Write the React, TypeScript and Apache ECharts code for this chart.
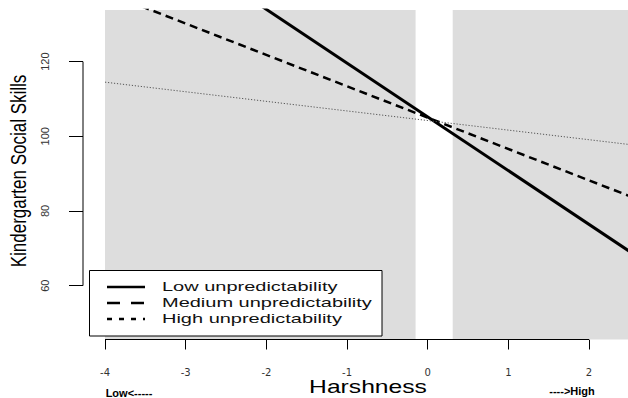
import React, { useEffect, useRef } from "react";
import * as echarts from "echarts";

// ---- data ----
const harshness = [-4, 2.5];
const lowUnpredictability = [162.8, 69.2];
const mediumUnpredictability = [138.6, 84.0];
const highUnpredictability = [114.5, 97.8];
const seriesNames = ["Low unpredictability", "Medium unpredictability", "High unpredictability"];
const xTicks = [-4, -3, -2, -1, 0, 1, 2];
const yTicks = [60, 80, 100, 120];
const shadedStarts = [-4, 0.31];
const shadedEnds = [-0.15, 2.483];

// axis extents (layout)
const X_MIN = -4.273;
const X_MAX = 2.483;
const Y_MIN = 45.57;
const Y_MAX = 133.83;

export default function App() {
  const ref = useRef<HTMLDivElement>(null);
  useEffect(() => {
    if (!ref.current) return;
    const chart = echarts.init(ref.current, null, { renderer: "svg" });
    const pts = (vals: number[]) => harshness.map((h, i) => [h, vals[i]]);
    const font = "Liberation Sans, Arial, sans-serif";
    const legendDash: (number[] | null)[] = [null, [13, 11], [5, 7]];
    const legendRowY = [287, 303, 319];
    const legendGraphics: any[] = [
      {
        type: "rect",
        shape: { x: 89.5, y: 270.5, width: 292.5, height: 65.5 },
        style: { fill: "#fff", stroke: "#000", lineWidth: 1 },
        z: 100,
      },
    ];
    seriesNames.forEach((name, i) => {
      legendGraphics.push({
        type: "line",
        shape: { x1: 107, y1: legendRowY[i], x2: 145, y2: legendRowY[i] },
        style: { stroke: "#000", lineWidth: 2.5, lineDash: legendDash[i] || undefined },
        z: 101,
      });
      legendGraphics.push({
        type: "text",
        x: 162,
        y: legendRowY[i],
        scaleX: 1.48,
        z: 101,
        style: { text: name, font: "13.5px Liberation Sans, Arial, sans-serif", fill: "#111", align: "left", verticalAlign: "middle" },
      });
    });
    chart.setOption({
      animation: false,
      backgroundColor: "#fff",
      grid: { left: 83, right: 0, top: 10, bottom: 58.5, containLabel: false },
      xAxis: {
        type: "value",
        min: X_MIN,
        max: X_MAX,
        splitLine: { show: false },
        axisLine: { show: false, onZero: false },
        axisTick: { show: true, customValues: xTicks, length: 10, lineStyle: { color: "#000", width: 1 } },
        axisLabel: { customValues: xTicks, margin: 28, fontSize: 10, fontFamily: "DejaVu Sans", color: "#333" },
      },
      yAxis: {
        type: "value",
        min: Y_MIN,
        max: Y_MAX,
        splitLine: { show: false },
        axisLine: { show: false, onZero: false },
        axisTick: { show: true, customValues: yTicks, length: 14, lineStyle: { color: "#000", width: 1 } },
        axisLabel: { customValues: yTicks, rotate: 90, margin: 33, fontSize: 11, fontFamily: font, color: "#333" },
      },
      graphic: [
        {
          type: "text",
          x: 18,
          y: 171,
          rotation: Math.PI / 2,
          scaleY: 1.3,
          style: { text: "Kindergarten Social Skills", font: "17px Liberation Sans, Arial, sans-serif", fill: "#000", align: "center", verticalAlign: "middle" },
        },
        {
          type: "text",
          x: 368,
          y: 387,
          scaleX: 1.37,
          style: { text: "Harshness", font: "18px Liberation Sans, Arial, sans-serif", fill: "#000", align: "center", verticalAlign: "middle" },
        },
        {
          type: "text",
          x: 129,
          y: 393,
          style: { text: "Low<-----", font: "bold 11px Liberation Sans, Arial, sans-serif", fill: "#000", align: "center", verticalAlign: "middle" },
        },
        {
          type: "text",
          x: 572,
          y: 391,
          style: { text: "---->High", font: "bold 11px Liberation Sans, Arial, sans-serif", fill: "#000", align: "center", verticalAlign: "middle" },
        },
        ...legendGraphics,
      ],
      series: [
        {
          name: "shade",
          type: "line",
          data: [],
          z: 1,
          silent: true,
          markArea: {
            silent: true,
            itemStyle: { color: "#dddddd" },
            data: shadedStarts.map((s, i) => [
              { coord: [s, Y_MIN] },
              { coord: [shadedEnds[i], Y_MAX] },
            ]),
          },
        },
        {
          name: "xaxisline",
          type: "line",
          data: [[xTicks[0], Y_MIN], [xTicks[xTicks.length - 1], Y_MIN]],
          symbol: "none",
          clip: false,
          silent: true,
          z: 5,
          lineStyle: { color: "#000", width: 1 },
        },
        {
          name: "yaxisline",
          type: "line",
          data: [[X_MIN, yTicks[0]], [X_MIN, yTicks[yTicks.length - 1]]],
          symbol: "none",
          clip: false,
          silent: true,
          z: 5,
          lineStyle: { color: "#000", width: 1 },
        },
        {
          name: seriesNames[0],
          type: "line",
          data: pts(lowUnpredictability),
          symbol: "none",
          z: 4,
          lineStyle: { color: "#000", width: 3, type: "solid" },
        },
        {
          name: seriesNames[1],
          type: "line",
          data: pts(mediumUnpredictability),
          symbol: "none",
          z: 4,
          lineStyle: { color: "#000", width: 2.5, type: [8, 5] },
        },
        {
          name: seriesNames[2],
          type: "line",
          data: pts(highUnpredictability),
          symbol: "none",
          z: 4,
          lineStyle: { color: "#555", width: 1, type: [1.2, 1.8] },
        },
      ],
    });
    return () => chart.dispose();
  }, []);
  return <div ref={ref} style={{ position: "absolute", left: 0, top: 0, width: 628, height: 398 }} />;
}
